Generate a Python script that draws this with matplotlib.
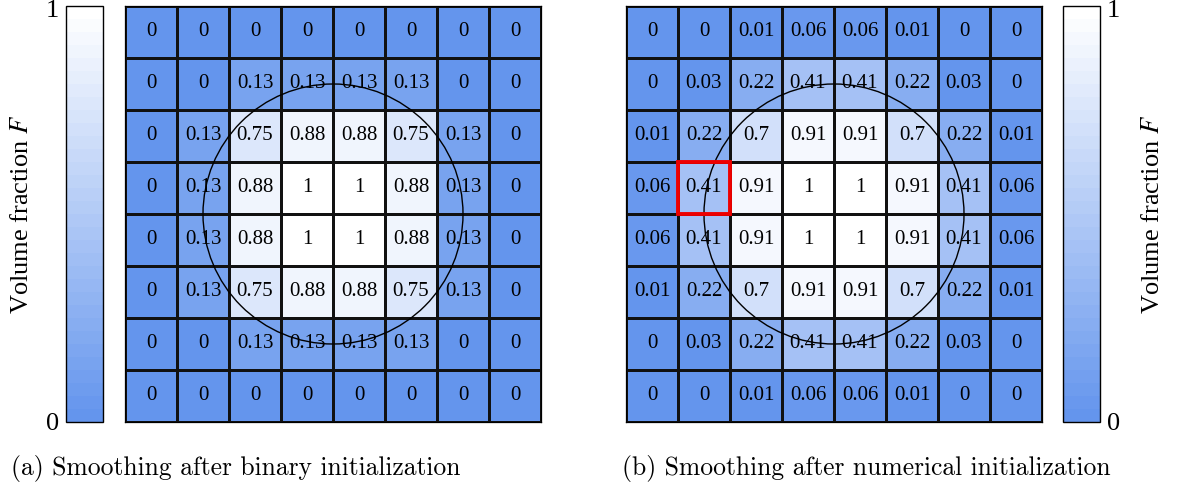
import numpy as np
import matplotlib
matplotlib.use("Agg")
import matplotlib.pyplot as plt
from matplotlib.colors import LinearSegmentedColormap, Normalize
from matplotlib.patches import Circle, Rectangle
from matplotlib.cm import ScalarMappable

plt.rcParams["mathtext.fontset"] = "stix"

# Volume fraction fields on an 8x8 grid (row 0 = top)
binary_smoothed = [
    [0, 0, 0, 0, 0, 0, 0, 0],
    [0, 0, 0.13, 0.13, 0.13, 0.13, 0, 0],
    [0, 0.13, 0.75, 0.88, 0.88, 0.75, 0.13, 0],
    [0, 0.13, 0.88, 1, 1, 0.88, 0.13, 0],
    [0, 0.13, 0.88, 1, 1, 0.88, 0.13, 0],
    [0, 0.13, 0.75, 0.88, 0.88, 0.75, 0.13, 0],
    [0, 0, 0.13, 0.13, 0.13, 0.13, 0, 0],
    [0, 0, 0, 0, 0, 0, 0, 0],
]
numerical_smoothed = [
    [0, 0, 0.01, 0.06, 0.06, 0.01, 0, 0],
    [0, 0.03, 0.22, 0.41, 0.41, 0.22, 0.03, 0],
    [0.01, 0.22, 0.7, 0.91, 0.91, 0.7, 0.22, 0.01],
    [0.06, 0.41, 0.91, 1, 1, 0.91, 0.41, 0.06],
    [0.06, 0.41, 0.91, 1, 1, 0.91, 0.41, 0.06],
    [0.01, 0.22, 0.7, 0.91, 0.91, 0.7, 0.22, 0.01],
    [0, 0.03, 0.22, 0.41, 0.41, 0.22, 0.03, 0],
    [0, 0, 0.01, 0.06, 0.06, 0.01, 0, 0],
]
captions = ["(a) Smoothing after binary initialization",
            "(b) Smoothing after numerical initialization"]
cbar_label = "Volume fraction $F$"
cbar_ticks = [0, 1]
cbar_ticklabels = ["0", "1"]
highlight_cell = (3, 1)  # (row, col) in panel (b)
circle_radius = 2.5      # in cell units

W, H = 1178, 493
fig = plt.figure(figsize=(W / 100, H / 100), dpi=100)

cmap = LinearSegmentedColormap.from_list("fblue", ["#6495ED", "#ffffff"], N=32)
norm = Normalize(0, 1)


def px_axes(x0, y0, x1, y1):
    return fig.add_axes([x0 / W, 1 - y1 / H, (x1 - x0) / W, (y1 - y0) / H])


def draw_grid(ax, field):
    data = np.array(field, dtype=float)
    n = data.shape[0]
    ax.pcolormesh(np.arange(n + 1), np.arange(n + 1), data, cmap=cmap, norm=norm,
                  edgecolors="#111111", linewidth=0.8)
    ax.set_xlim(0, n)
    ax.set_ylim(n, 0)
    ax.set_aspect("equal")
    for r in range(n):
        for c in range(n):
            ax.text(c + 0.5, r + 0.5, f"{data[r, c]:g}", ha="center", va="center",
                    fontsize=15, family="Liberation Serif", color="black")
    ax.add_patch(Circle((n / 2, n / 2), circle_radius, fill=False,
                        edgecolor="black", linewidth=1.0, zorder=5))
    ax.set_xticks([])
    ax.set_yticks([])
    for s in ax.spines.values():
        s.set_linewidth(0.9)


def draw_cbar(cax, side):
    sm = ScalarMappable(norm=norm, cmap=cmap)
    cb = fig.colorbar(sm, cax=cax, ticks=cbar_ticks)
    cb.outline.set_linewidth(1.0)
    cb.ax.tick_params(length=0, labelleft=False, labelright=False,
                      left=False, right=False)
    # tick values beside the bar ends
    x = -0.18 if side == "left" else 1.18
    ha = "right" if side == "left" else "left"
    for v, lab, dy in zip(cbar_ticks, cbar_ticklabels, [-2, -5]):
        cb.ax.annotate(lab, xy=(x, v), xycoords=("axes fraction", "data"),
                       xytext=(0, dy), textcoords="offset pixels",
                       ha=ha, va="center", family="Liberation Serif", fontsize=19)
    cb.ax.yaxis.set_label_position(side)
    cb.set_label(cbar_label, family="Liberation Serif", fontsize=19,
                 labelpad=30 if side == "right" else 24)


ax_a = px_axes(125, 6, 541, 422)
draw_grid(ax_a, binary_smoothed)
cax_a = px_axes(66, 6, 103, 422)
draw_cbar(cax_a, "left")

ax_b = px_axes(626, 6, 1042, 422)
draw_grid(ax_b, numerical_smoothed)
r, c = highlight_cell
ax_b.add_patch(Rectangle((c, r), 1, 1, fill=False, edgecolor="#ee0000",
                         linewidth=2.8, zorder=6))
cax_b = px_axes(1063, 6, 1100, 422)
draw_cbar(cax_b, "right")

fig.text(236 / W, 1 - 469 / H, captions[0], ha="center", va="center",
         family="cmr10", fontsize=18.4)
fig.text(866 / W, 1 - 469 / H, captions[1], ha="center", va="center",
         family="cmr10", fontsize=18.4)

fig.savefig("out.png", dpi=100)
